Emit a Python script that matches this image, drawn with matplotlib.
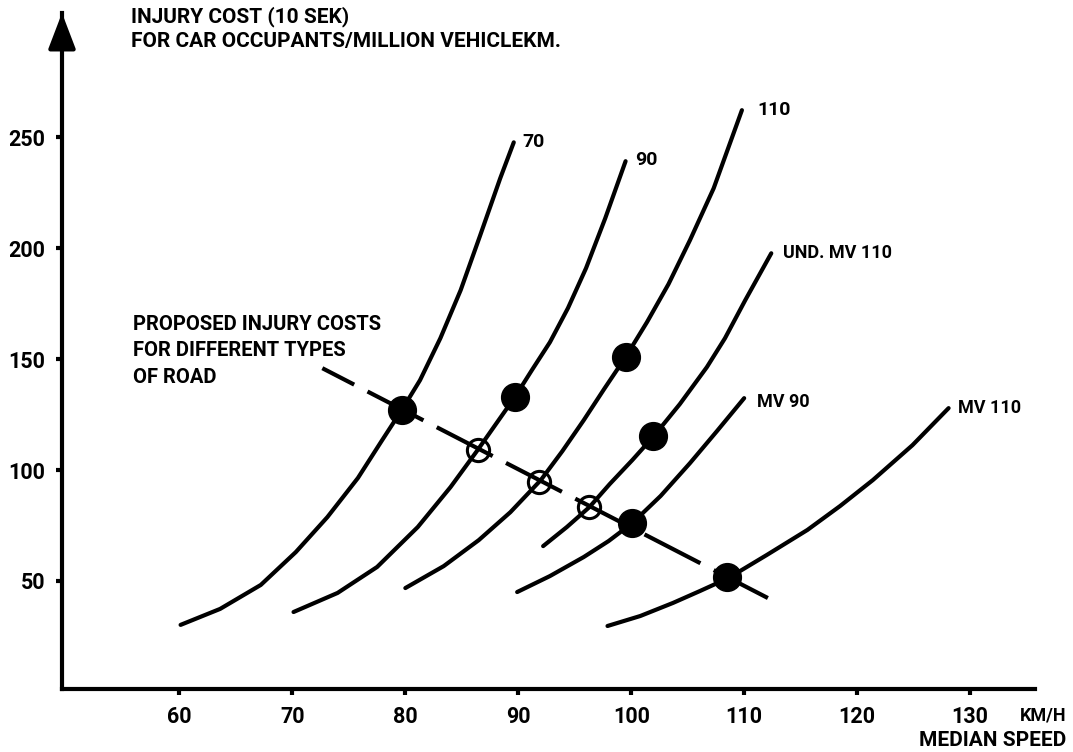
import matplotlib.pyplot as plt

plt.rcParams['font.family'] = ['Roboto', 'DejaVu Sans']
plt.rcParams['font.weight'] = 'bold'

# curves: median speed (km/h) vs injury cost
speed_70 = [60.1, 63.6, 67.2, 70.3, 73.1, 75.8, 77.9, 79.8, 81.3, 83.1, 84.9, 86.6, 88.4, 89.6]
cost_70 = [30.2, 37.4, 48.2, 63.0, 78.8, 96.4, 113.1, 128.0, 140.5, 159.4, 181.1, 205.4, 231.5, 247.7]

speed_90 = [70.1, 74.0, 77.5, 81.1, 84.0, 86.4, 89.7, 91.2, 92.8, 94.4, 96.0, 97.7, 99.5]
cost_90 = [36.0, 44.6, 56.3, 74.3, 92.3, 109.0, 132.9, 145.0, 157.6, 173.0, 191.0, 213.5, 239.2]

speed_110 = [80.0, 83.4, 86.5, 89.3, 92.0, 93.9, 95.8, 97.6, 99.5, 101.4, 103.3, 105.2, 107.3, 109.8]
cost_110 = [46.8, 56.7, 68.4, 81.0, 95.5, 108.5, 122.5, 136.5, 150.9, 166.7, 183.8, 203.6, 227.0, 262.2]

speed_und = [92.2, 94.3, 96.3, 98.1, 100.1, 102.0, 104.3, 106.7, 108.3, 110.1, 112.4]
cost_und = [65.7, 74.3, 83.3, 93.7, 104.5, 115.3, 129.7, 146.4, 159.4, 176.6, 197.7]

speed_mv90 = [89.9, 92.8, 95.8, 98.0, 100.1, 102.6, 105.2, 107.6, 110.0]
cost_mv90 = [45.0, 52.2, 60.8, 68.0, 76.1, 88.3, 103.1, 117.6, 132.4]

speed_mv110 = [97.9, 100.8, 103.7, 106.1, 108.6, 112.0, 115.6, 118.5, 121.4, 124.9, 128.1]
cost_mv110 = [29.7, 34.2, 40.1, 45.5, 51.3, 61.7, 73.0, 83.8, 95.5, 111.2, 127.9]

curve_labels = ['70', '90', '110', 'UND. MV 110', 'MV 90', 'MV 110']

# proposed costs
dot_speed = [79.7, 89.7, 99.5, 101.9, 100.1, 108.5]
dot_cost = [127.0, 132.9, 150.9, 115.3, 76.1, 51.8]
open_speed = [86.4, 91.8, 96.3]
open_cost = [109.0, 94.6, 83.3]
prop_speed = [72.65, 112.1]
prop_cost = [145.9, 42.3]

x_ticks = [60, 70, 80, 90, 100, 110, 120, 130]
y_ticks = [50, 100, 150, 200, 250]

W, H = 1073, 752
fig = plt.figure(figsize=(W / 100, H / 100), dpi=100)
ax = fig.add_axes([62 / W, (H - 689) / H, (1035 - 62) / W, (689 - 13) / H])

curves = [
    (speed_70, cost_70),
    (speed_90, cost_90),
    (speed_110, cost_110),
    (speed_und, cost_und),
    (speed_mv90, cost_mv90),
    (speed_mv110, cost_mv110),
]
label_offsets = [(9, 0), (10, 1), (15, 0), (12, 0), (13, -4), (9, 0)]

for (xs, ys), name, off in zip(curves, curve_labels, label_offsets):
    ax.plot(xs, ys, color='black', lw=3, solid_capstyle='round', solid_joinstyle='round')
    ax.annotate(name, xy=(xs[-1], ys[-1]), xytext=off, textcoords='offset pixels',
                ha='left', va='center', fontsize=13 if len(name) > 3 else 14)

ax.plot(prop_speed, prop_cost, color='black', lw=3,
        linestyle=(6.5, (15.1, 3.6)), dash_capstyle='butt')
ax.plot(dot_speed, dot_cost, 'o', color='black', ms=20, zorder=5)
ax.plot(open_speed, open_cost, 'o', mfc='none', mec='black', mew=2.2, ms=16, zorder=5)

fig.text(133 / W, 1 - 351 / H, 'PROPOSED INJURY COSTS\nFOR DIFFERENT TYPES\nOF ROAD',
         fontsize=14.5, va='center', ha='left', linespacing=1.5)

ax.set_xlim(49.6, 135.75)
ax.set_ylim(1.3, 306)
ax.set_xticks(x_ticks)
ax.set_yticks(y_ticks)

for side in ['top', 'right']:
    ax.spines[side].set_visible(False)
for side in ['left', 'bottom']:
    ax.spines[side].set_linewidth(3)
ax.tick_params(direction='out', length=4, width=3, labelsize=15.5, pad=8)

ax.annotate('', xy=(0, 1), xycoords='axes fraction', xytext=(0, 0.95),
            arrowprops=dict(arrowstyle='-|>,head_length=1.1,head_width=0.42',
                            color='black', lw=3, mutation_scale=20,
                            shrinkA=0, shrinkB=0))

fig.text(131 / W, 1 - 17 / H, 'INJURY COST (10 SEK)', fontsize=15, va='center', ha='left')
fig.text(131 / W, 1 - 41 / H, 'FOR CAR OCCUPANTS/MILLION VEHICLEKM.', fontsize=15,
         va='center', ha='left')
fig.text(1066 / W, 1 - 715 / H, 'KM/H', fontsize=13, va='center', ha='right')
fig.text(1066 / W, 1 - 741 / H, 'MEDIAN SPEED', fontsize=15, va='center', ha='right')

fig.savefig('out.png', dpi=100)
